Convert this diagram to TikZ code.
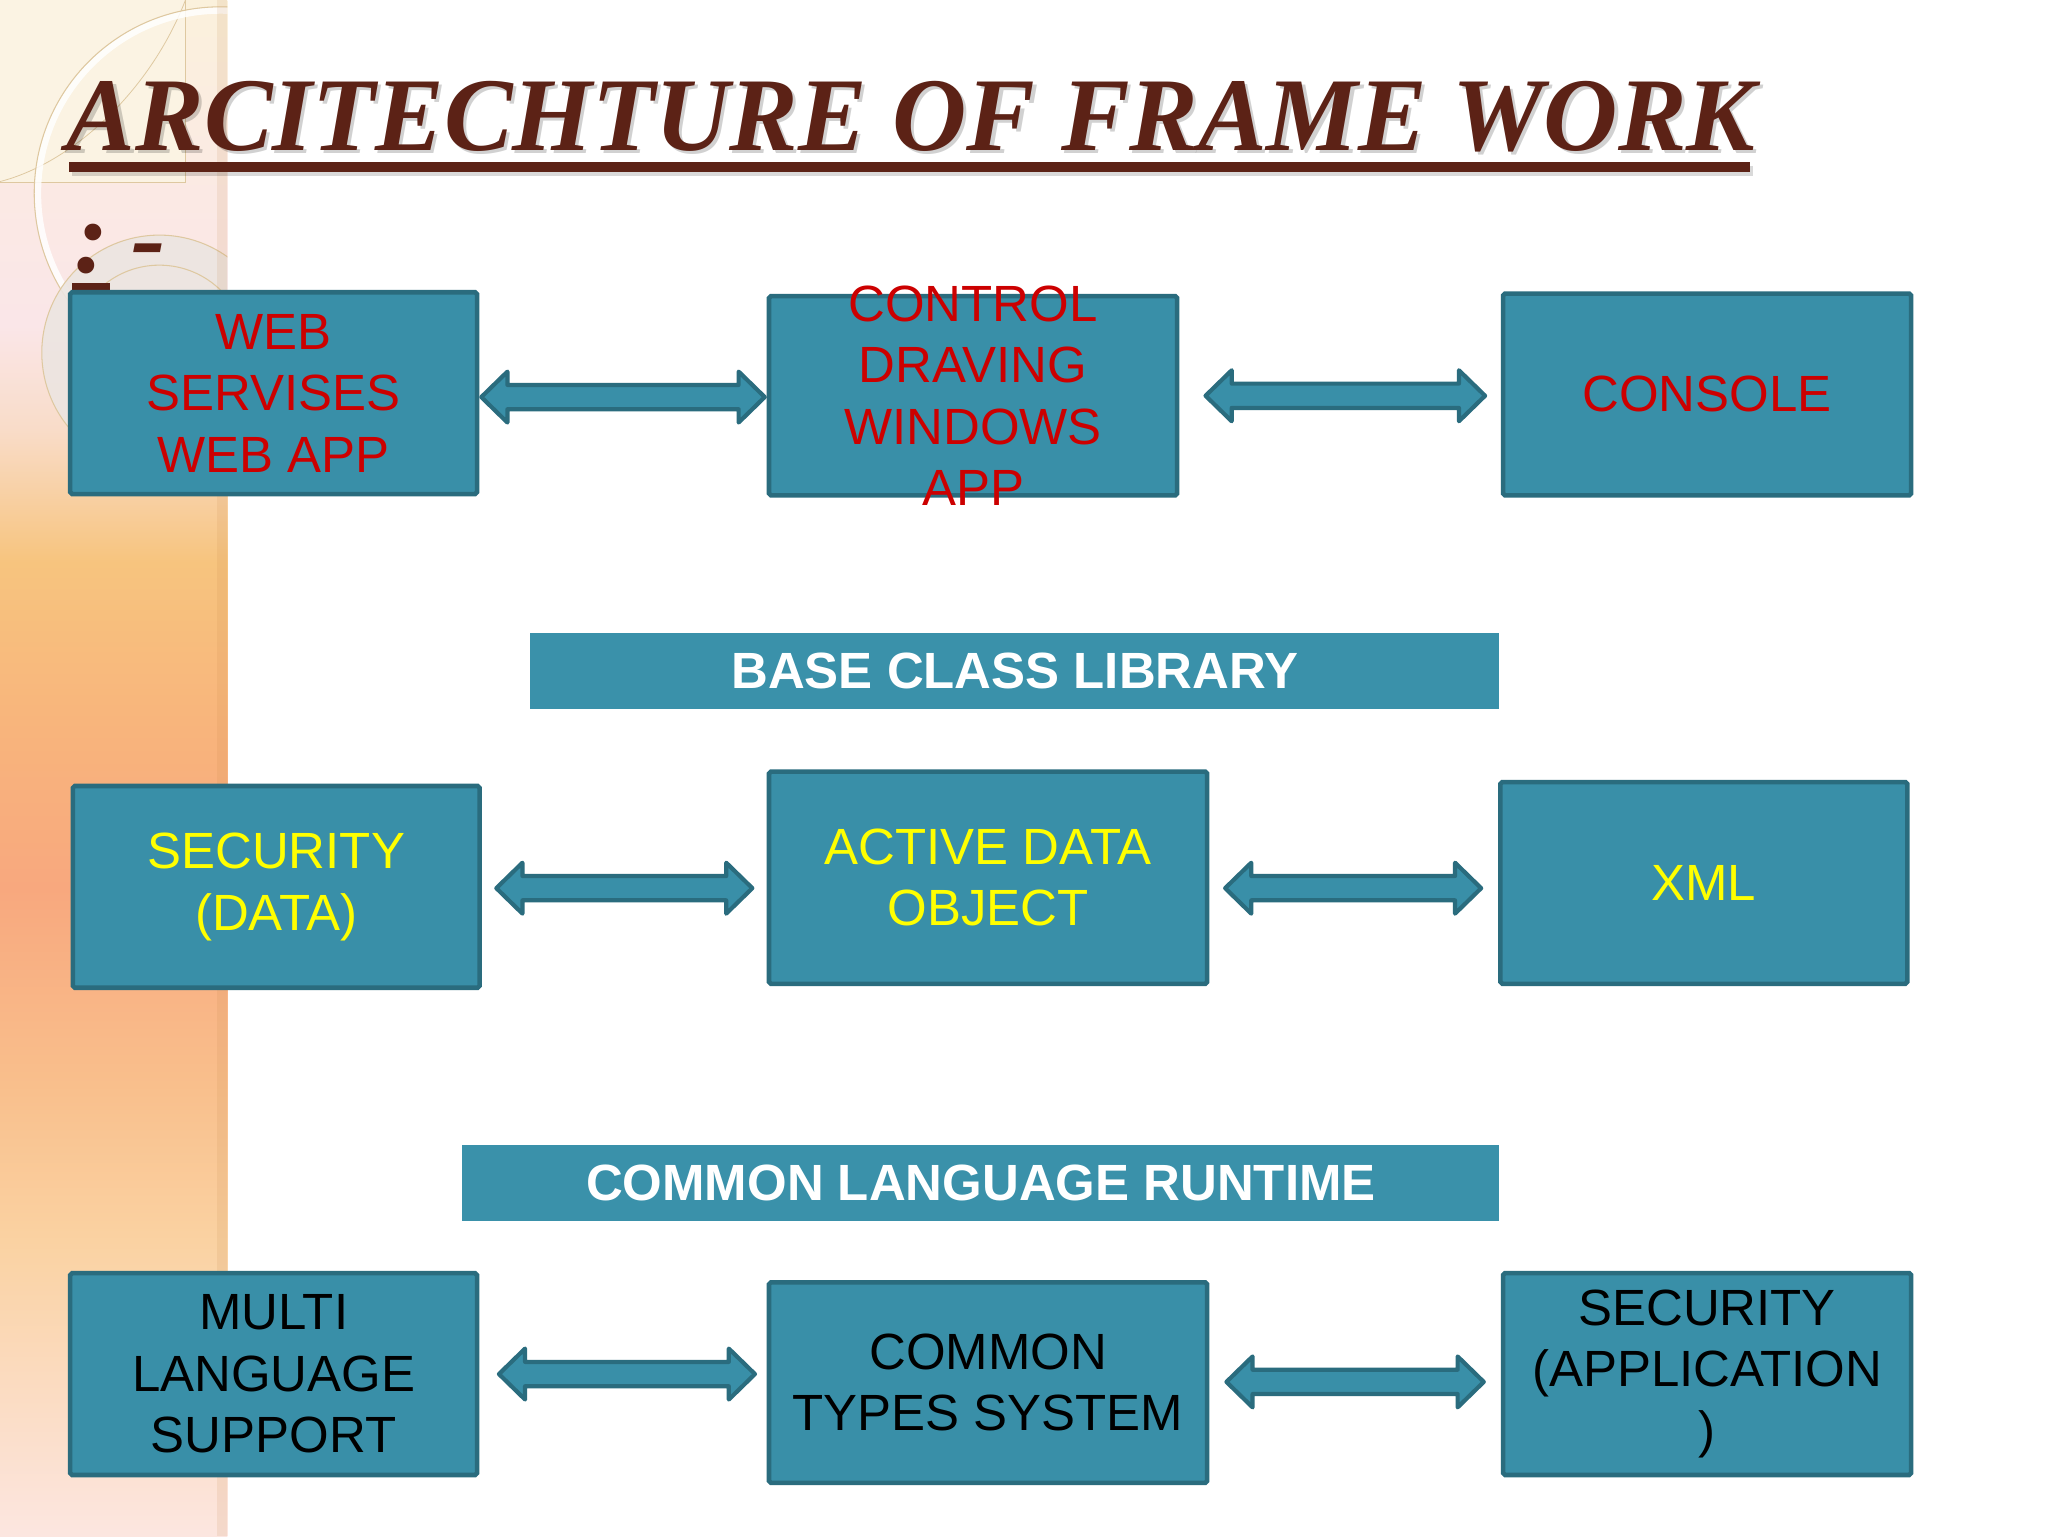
\documentclass[tikz,border=0pt]{standalone}
\usepackage{fontspec}
\setmainfont{Liberation Sans}
\newfontfamily\ttlfont{Liberation Serif}
\usetikzlibrary{calc}
\definecolor{boxfill}{RGB}{57,143,168}
\definecolor{boxline}{RGB}{42,108,126}
\definecolor{barfill}{RGB}{58,145,170}
\definecolor{ttl}{RGB}{92,34,22}
\definecolor{txtred}{RGB}{204,0,0}
\definecolor{txtyel}{RGB}{255,255,0}
\definecolor{ringc}{RGB}{236,229,225}
\definecolor{tanline}{RGB}{222,200,160}
\definecolor{tlrect}{RGB}{251,243,227}
\definecolor{s0}{RGB}{252,230,224}
\definecolor{s1}{RGB}{251,221,198}
\definecolor{s2}{RGB}{250,210,162}
\definecolor{s3}{RGB}{249,191,140}
\definecolor{s4}{RGB}{248,168,126}
\definecolor{s5}{RGB}{248,180,124}
\definecolor{s6}{RGB}{247,196,126}
\definecolor{s7}{RGB}{249,220,200}
\definecolor{s8}{RGB}{250,230,232}
\definecolor{s9}{RGB}{251,233,228}
\definecolor{s10}{RGB}{251,241,220}
\pgfdeclareverticalshading{stripshade}{100bp}{color(0bp)=(s0); color(25bp)=(s0); color(29.1bp)=(s1); color(34.6bp)=(s2); color(39.7bp)=(s3); color(46.1bp)=(s4); color(51.2bp)=(s5); color(56.7bp)=(s6); color(61bp)=(s7); color(64.4bp)=(s8); color(68.6bp)=(s9); color(75bp)=(s10); color(100bp)=(s10)}
\newcommand\titletext{\resizebox{1292pt}{53pt}{\ttlfont\bfseries\itshape ARCITECHTURE OF FRAME WORK}}
% double arrow between two named nodes: #1 left node, #2 right node, #3 left gap, #4 right gap, #5 vertical offset
\newcommand\dblarr[5]{%
  \coordinate (aL) at ($(#1.east)+(#3,#5)$);
  \coordinate (aR0) at ($(#2.west)+(-#4,0)$);
  \coordinate (aR) at (aR0 |- aL);
  \draw[dblarrow] (aL) -- ($(aL)+(20,-19.5)$) -- ($(aL)+(20,-9.3)$) -- ($(aR)+(-20,-9.3)$)
    -- ($(aR)+(-20,-19.5)$) -- (aR) -- ($(aR)+(-20,19.5)$) -- ($(aR)+(-20,9.3)$)
    -- ($(aL)+(20,9.3)$) -- ($(aL)+(20,19.5)$) -- cycle;}
\begin{document}
\begin{tikzpicture}[x=1pt,y=-1pt,
  box/.style={draw=boxline, fill=boxfill, line width=3.5pt, rounded corners=1.5pt, inner sep=0pt},
  bar/.style={fill=barfill, inner sep=0pt, text=white, font=\fontsize{39}{47}\selectfont\bfseries},
  txt/.style={align=center, inner sep=0pt, font=\fontsize{39}{47}\selectfont},
  dblarrow/.style={draw=boxline, fill=boxfill, line width=3.2pt, line join=round}]
\useasboundingbox (0,0) rectangle (1568,1176);
\fill[white] (0,0) rectangle (1568,1176);
% left decorative strip
\shade[shading=stripshade] (0,0) rectangle (174,1176);
\begin{scope}
  \clip (0,0) rectangle (174,1176);
  \fill[tlrect] (0,0) rectangle (142,140);
  \draw[tanline, line width=0.6pt] (142,0) -- (142,140) -- (0,140);
  \draw[tanline, line width=0.6pt] (142,0) .. controls (115,70) and (55,125) .. (0,139);
  \draw[white, opacity=0.85, line width=5pt] (169,148) circle (140pt);
  \draw[tanline, line width=0.8pt] (169,148) circle (142.8pt);
  \fill[ringc, opacity=0.9] (122,270) circle (90pt);
  \draw[tanline, line width=0.8pt] (122,270) circle (90pt);
  \draw[tanline, line width=0.8pt] (122,270) circle (67pt);
  \fill[brown, opacity=0.12] (166,0) rectangle (174,1176);
\end{scope}
% title
\node[anchor=base west, inner sep=0pt, text=black, opacity=0.18] at (53.5,117.5) {\titletext};
\node[anchor=base west, inner sep=0pt, text=ttl] (title) at (51,115) {\titletext};
\fill[black, opacity=0.15] (55,127) rectangle (1342,134.5);
\fill[ttl] (53,124) rectangle (1340,131.5);
\node[anchor=base west, inner sep=0pt, text=ttl, font=\fontsize{79}{94}\ttlfont\bfseries\itshape] (colon) at (57,209) {:\kern17pt-};
\fill[ttl] (55,217) rectangle (84,224);
% row 1
\node[box, minimum width=311.5pt, minimum height=154.5pt] (web) at (209.5,301) {};
\node[txt, text=txtred] at (web) {WEB\\SERVISES\\WEB APP};
\node[box, minimum width=312.5pt, minimum height=152.5pt] (ctrl) at (745,303) {};
\node[txt, text=txtred] at (ctrl) {CONTROL\\DRAVING\\WINDOWS\\APP};
\node[box, minimum width=312.5pt, minimum height=154.5pt] (console) at (1307,302) {};
\node[txt, text=txtred] at (console) {CONSOLE};
% base class library
\node[bar, minimum width=742pt, minimum height=58pt] (bcl) at (777,514) {BASE CLASS LIBRARY};
% row 2
\node[box, minimum width=311.5pt, minimum height=154.5pt] (secd) at (211.5,679) {};
\node[txt, text=txtyel] at (secd) {SECURITY\\(DATA)};
\node[box, minimum width=335.5pt, minimum height=162.5pt] (ado) at (756.5,672) {};
\node[txt, text=txtyel] at (ado) {ACTIVE DATA\\OBJECT};
\node[box, minimum width=311.5pt, minimum height=154.5pt] (xml) at (1304.5,676) {};
\node[txt, text=txtyel] at (xml) {XML};
% common language runtime
\node[bar, minimum width=794pt, minimum height=58pt] (clr) at (751,906) {COMMON LANGUAGE RUNTIME};
% row 3
\node[box, minimum width=311.5pt, minimum height=154.5pt] (multi) at (209.5,1052) {};
\node[txt, text=black] at (multi) {MULTI\\LANGUAGE\\SUPPORT};
\node[box, minimum width=335.5pt, minimum height=153.5pt] (cts) at (756.5,1058.5) {};
\node[txt, text=black] at (cts) {COMMON\\TYPES SYSTEM};
\node[box, minimum width=312.5pt, minimum height=154.5pt] (secapp) at (1307,1052) {};
\node[txt, text=black] at (secapp) {SECURITY\\(APPLICATION\\)};
% connectors
\dblarr{web}{ctrl}{1.5}{1.5}{3}
\dblarr{ctrl}{console}{20}{12}{0}
\dblarr{secd}{ado}{11}{11}{1}
\dblarr{ado}{xml}{12}{13}{8}
\dblarr{multi}{cts}{15}{9}{0}
\dblarr{cts}{secapp}{13}{13}{-0.5}
\end{tikzpicture}
\end{document}
